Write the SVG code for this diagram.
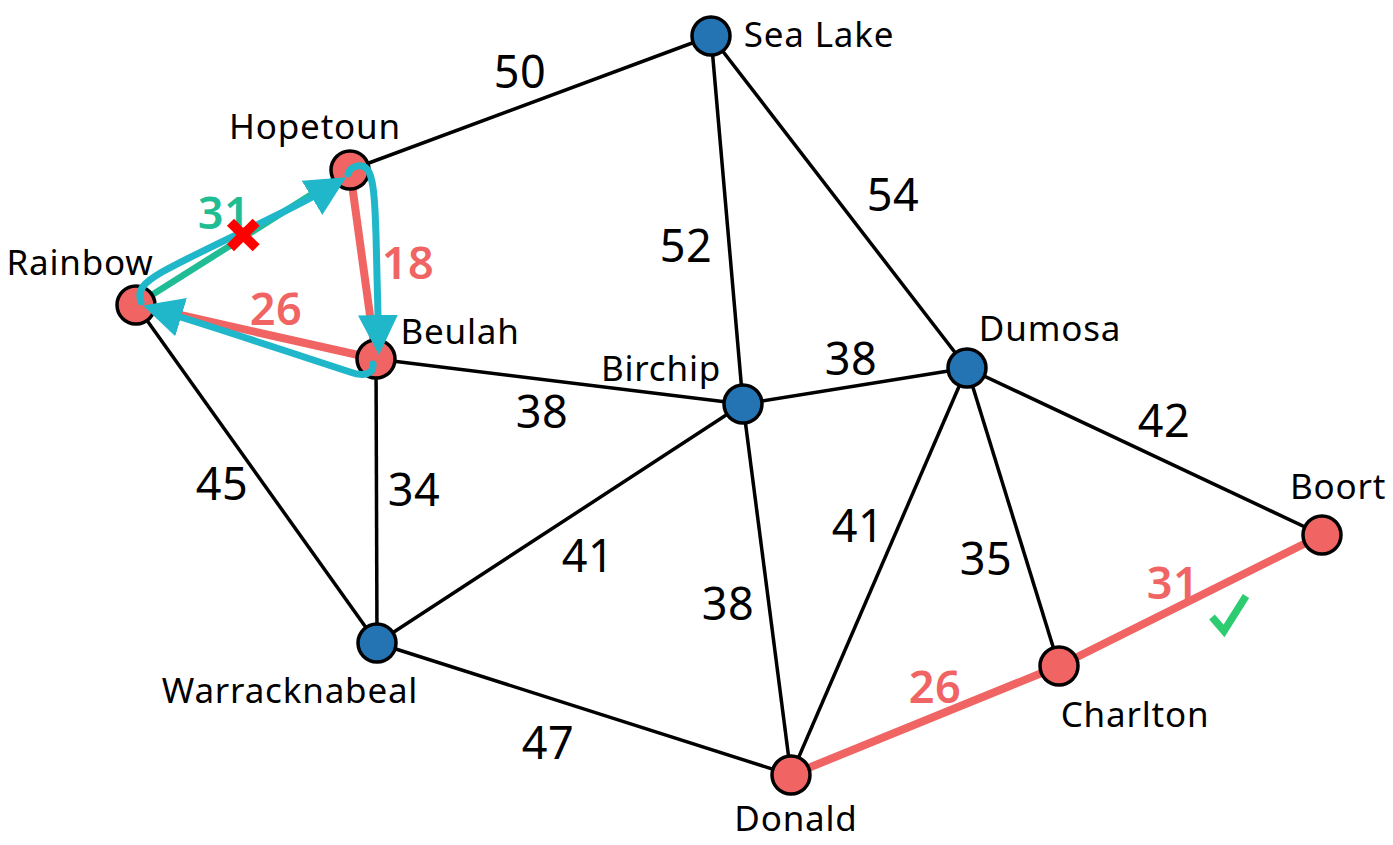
<svg xmlns="http://www.w3.org/2000/svg" width="1393" height="845" viewBox="0 0 1393 845">
<style>
.e{stroke:#000;stroke-width:3.5;fill:none}
.er{stroke:#f06563;stroke-width:8;fill:none}
.eg{stroke:#20bd95;stroke-width:6.5;fill:none}
.t{stroke:#1fb7c9;stroke-width:7;fill:none;stroke-linecap:round;stroke-linejoin:round}
.nr{fill:#f06563;stroke:#000;stroke-width:3.5}
.nb{fill:#2473b3;stroke:#000;stroke-width:3.5}
.nl{font-family:"Noto Sans","Liberation Sans",sans-serif;font-size:35px;letter-spacing:0.8px;fill:#000;text-anchor:middle}
.w{font-family:"Noto Sans","Liberation Sans",sans-serif;font-size:45px;letter-spacing:0.5px;fill:#000;text-anchor:middle}
.wr{fill:#f06563;font-weight:600}
.wg{fill:#20bd95;font-weight:600}
</style>
<defs>
<marker id="ah" markerUnits="userSpaceOnUse" viewBox="0 0 40 40" markerWidth="40" markerHeight="40" refX="21" refY="20" orient="auto">
<path d="M0,0 L40,20 L0,40 Z" fill="#1fb7c9"/>
</marker>
</defs>
<rect width="1393" height="845" fill="#fff"/>
<g id="connectors">
<line class="e" x1="350" y1="170" x2="711" y2="36"/>
<line class="e" x1="711" y1="36" x2="743" y2="404"/>
<line class="e" x1="711" y1="36" x2="967" y2="368"/>
<line class="e" x1="136" y1="305" x2="377" y2="643"/>
<line class="e" x1="376" y1="359" x2="377" y2="643"/>
<line class="e" x1="376" y1="359" x2="743" y2="404"/>
<line class="e" x1="743" y1="404" x2="967" y2="368"/>
<line class="e" x1="743" y1="404" x2="377" y2="643"/>
<line class="e" x1="743" y1="404" x2="791" y2="775"/>
<line class="e" x1="377" y1="643" x2="791" y2="775"/>
<line class="e" x1="967" y1="368" x2="791" y2="775"/>
<line class="e" x1="967" y1="368" x2="1059" y2="666"/>
<line class="e" x1="967" y1="368" x2="1322" y2="535"/>
<line class="eg" x1="136" y1="305" x2="350" y2="170"/>
<line class="er" x1="350" y1="170" x2="376" y2="359"/>
<line class="er" x1="136" y1="305" x2="376" y2="359"/>
<line class="er" x1="791" y1="775" x2="1059" y2="666"/>
<line class="er" x1="1059" y1="666" x2="1322" y2="535"/>
</g>
<g id="nodes">
<g id="node-sealake"><circle class="nb" cx="711" cy="36" r="19"/><text class="nl" x="819" y="47">Sea Lake</text></g>
<g id="node-hopetoun"><circle class="nr" cx="350" cy="170" r="19"/><text class="nl" x="315" y="139">Hopetoun</text></g>
<g id="node-rainbow"><circle class="nr" cx="136" cy="305" r="19"/><text class="nl" x="80" y="275">Rainbow</text></g>
<g id="node-beulah"><circle class="nr" cx="376" cy="359" r="19"/><text class="nl" x="460" y="344">Beulah</text></g>
<g id="node-birchip"><circle class="nb" cx="743" cy="404" r="19"/><text class="nl" x="661" y="381">Birchip</text></g>
<g id="node-dumosa"><circle class="nb" cx="967" cy="368" r="19"/><text class="nl" x="1050" y="341">Dumosa</text></g>
<g id="node-boort"><circle class="nr" cx="1322" cy="535" r="19"/><text class="nl" x="1338" y="499">Boort</text></g>
<g id="node-charlton"><circle class="nr" cx="1059" cy="666" r="19"/><text class="nl" x="1135" y="727">Charlton</text></g>
<g id="node-donald"><circle class="nr" cx="791" cy="775" r="19"/><text class="nl" x="796" y="831">Donald</text></g>
<g id="node-warracknabeal"><circle class="nb" cx="377" cy="643" r="19"/><text class="nl" x="290" y="703">Warracknabeal</text></g>
</g>
<g id="cycle-arrows">
<path class="t" marker-end="url(#ah)" d="M141,302 C137,290 143,283 162,272 C215,243 285,214 330,187"/>
<path class="t" marker-end="url(#ah)" d="M348,174 C351,165 364,162 369,172 C374,182 375,205 376,235 L378.5,336"/>
<path class="t" marker-end="url(#ah)" d="M373,364 C374,374 364,377 350,372 C300,356 230,332 161,311"/>
</g>
<g id="weights">
<text class="w" x="520" y="88">50</text>
<text class="w" x="686" y="262">52</text>
<text class="w" x="893" y="211">54</text>
<text class="w" x="851" y="375">38</text>
<text class="w" x="542" y="428">38</text>
<text class="w" x="1164" y="437">42</text>
<text class="w" x="222" y="500">45</text>
<text class="w" x="414" y="506">34</text>
<text class="w" x="588" y="572">41</text>
<text class="w" x="858" y="542">41</text>
<text class="w" x="986" y="575">35</text>
<text class="w" x="728" y="620">38</text>
<text class="w" x="548" y="759">47</text>
<text class="w wr" x="935" y="703">26</text>
<text class="w wr" x="1173" y="599">31</text>
<text class="w wr" x="276" y="325">26</text>
<text class="w wr" x="408" y="279">18</text>
<text class="w wg" x="224" y="229">31</text>
</g>
<g id="marks">
<g id="reject-mark" stroke="#ff0000" stroke-width="10">
<line x1="230.5" y1="222.2" x2="256.1" y2="247.8"/>
<line x1="256.1" y1="222.2" x2="230.5" y2="247.8"/>
</g>
<polyline id="accept-mark" points="1212,617 1224,631 1246,596" fill="none" stroke="#2ecc71" stroke-width="7.5"/>
</g>
</svg>
